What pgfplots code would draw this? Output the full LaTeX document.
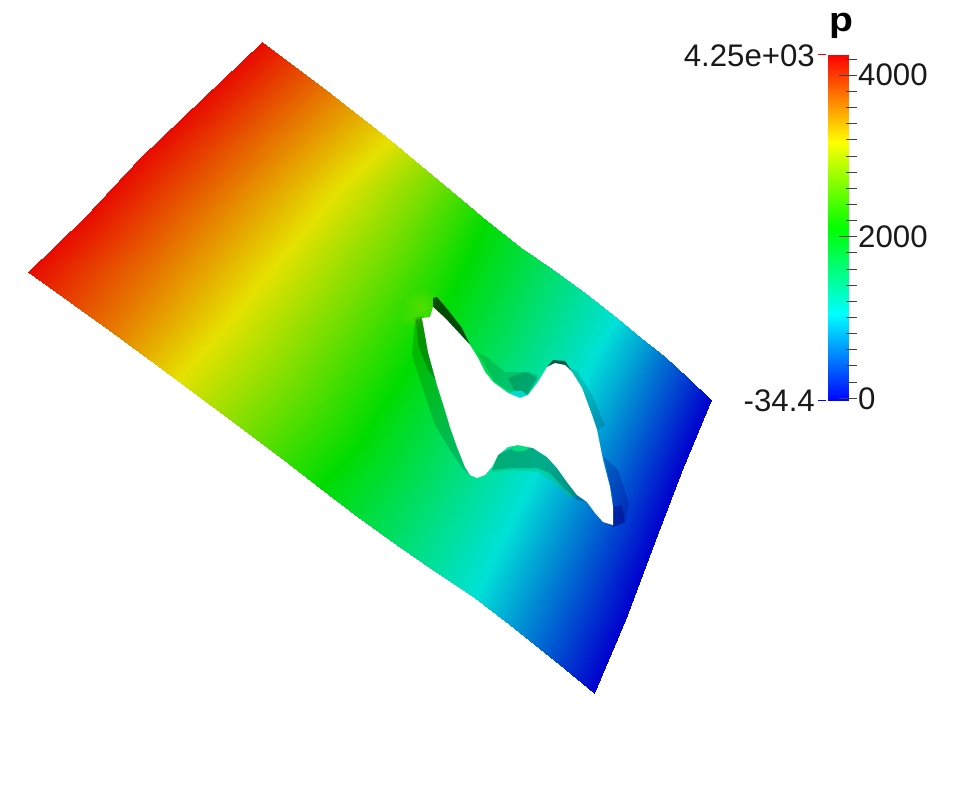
\documentclass[border=0pt]{standalone}
\usepackage{fontspec}
\setmainfont{Liberation Sans}
\usepackage{pgfplots}
\pgfplotsset{compat=1.18}
\pgfplotsset{
  colormap={surfmap}{rgb255=(0,0,205) rgb255=(0,225,215) rgb255=(0,220,0) rgb255=(230,225,0) rgb255=(232,10,0)},
  colormap={barmap}{rgb255=(0,0,255) rgb255=(0,255,255) rgb255=(0,255,0) rgb255=(255,255,0) rgb255=(255,0,0)},
  base/.style={at={(0,0)},anchor=south west,scale only axis,width=976pt,height=787pt,
    xmin=0,xmax=976,ymin=0,ymax=787,y dir=reverse,hide axis,clip=false,
    point meta min=-34.4,point meta max=4250},
  shade/.style={fill=black,fill opacity=#1,draw=none,forget plot},
}
\definecolor{humpgreen}{RGB}{0,200,125}
\definecolor{deepblue}{RGB}{0,0,130}
\begin{document}
\begin{tikzpicture}
\useasboundingbox (0,0) rectangle (976pt,787pt);
\begin{axis}[base,colormap name=surfmap]
\addplot[surf,shader=interp,mesh/cols=5,mesh/rows=14,point meta=explicit,forget plot]
 table[x=x,y=y,meta=p]{
x y p
262 42 4250
203 98 4250
140 158 4250
85 217 4250
28 272 4250
326 90 3715
270 144 3715
211 206 3715
157 268 3715
109 330 3715
390 140 3179
338 190 3179
283 255 3179
230 320 3179
177 380 3179
438 180 2644
394 243 2644
341 317 2644
293 383 2644
248 433 2644
462 200 2376
422 270 2376
370 348 2376
325 415 2376
284 460 2376
487 221 2108
450 297 2108
400 380 2108
357 447 2108
320 488 2108
520 247 1840
483 318 1840
436 399 1840
394 468 1840
358 517 1840
552 269 1572
517 340 1572
472 419 1572
432 490 1572
397 545 1572
585 293 1304
550 362 1304
508 438 1304
469 511 1304
436 572 1304
617 318 1037
590 365 1037
550 445 1037
508 530 1037
475 598 1037
641 338 769
608 405 769
572 478 769
536 554 769
505 621 769
664 356 501
633 426 501
600 499 501
566 576 501
535 645 501
688 378 233
658 446 233
628 520 233
596 598 233
565 669 233
711 400 -34
683 467 -34
655 540 -34
625 620 -34
594 693 -34
};
% brighter yellow-green area at the tip of the hole
\addplot[patch,patch type=triangle,shader=interp,point meta=explicit,forget plot]
 table[x=x,y=y,meta=p]{
x y p
425 308 2480
395 325 2306
405 295 2380
425 308 2480
405 295 2380
425 285 2280
425 308 2480
425 285 2280
445 300 2146
425 308 2480
445 300 2146
425 325 2240
425 308 2480
425 325 2240
395 325 2306
};
% shaded facets round the hole
\addplot[shade=0.65] coordinates {(433,298)(437,297)(448,310)(462,328)(470,345)(458,332)(445,318)(433,307)};
\addplot[shade=0.15] coordinates {(415,318)(423,316)(430,345)(437,385)(445,412)(452,432)(465,467)(470,475)(462,468)(450,450)(435,425)(425,395)(412,355)};
\addplot[shade=0.2] coordinates {(416,320)(423,318)(430,350)(436,380)(428,370)(418,345)};
\addplot[fill=humpgreen,fill opacity=0.5,draw=none,forget plot] coordinates {(498,455)(518,445)(533,448)(547,457)(557,468)(567,482)(577,495)(570,497)(553,482)(538,472)(513,470)(492,472)};
\addplot[shade=0.18] coordinates {(498,455)(518,445)(533,448)(547,457)(557,468)(567,482)(577,495)(587,502)(577,500)(563,487)(550,473)(537,468)(513,468)(492,470)};
\addplot[fill={rgb,255:red,0;green,222;blue,130},draw=none,forget plot] coordinates {(510,447)(518,444)(530,447)(525,451)(514,451)};
\addplot[shade=0.12] coordinates {(477,352)(495,382)(520,398)(525,397)(538,375)(528,372)(505,372)(488,358)};
\addplot[shade=0.15] coordinates {(508,378)(525,372)(538,378)(528,395)(515,392)};
\addplot[fill={rgb,255:red,0;green,220;blue,210},draw=none,forget plot] coordinates {(510,393)(520,398)(528,396)(522,391)(514,391)};
\addplot[shade=0.6] coordinates {(547,367)(553,360)(565,361)(572,372)(560,365)(552,366)};
\addplot[shade=0.13] coordinates {(570,368)(578,372)(592,395)(605,425)(598,430)(590,410)(582,390)};
\addplot[fill=deepblue,fill opacity=0.25,draw=none,forget plot] coordinates {(604,457)(618,470)(629,503)(625,523)(613,527)(613,497)};
\addplot[fill=deepblue,fill opacity=0.4,draw=none,forget plot] coordinates {(613,507)(622,505)(625,522)(613,527)};
% the hole
\addplot[fill=white,draw=none,forget plot] coordinates {
(433,307)(445,318)(458,332)(470,345)(478,358)(485,372)(493,382)(508,393)(520,398)(528,395)
(538,382)(547,367)(555,363)(565,365)(572,372)(582,388)(592,415)(597,430)(603,460)(610,487)
(613,507)(613,525)(603,522)(595,513)(587,502)(577,495)(567,482)(557,468)(547,457)(533,448)
(518,445)(508,447)(498,455)(492,467)(485,475)(477,478)(470,475)(465,467)(457,447)(450,427)
(445,410)(437,385)(428,352)(422,318)(430,317)};
\end{axis}
\begin{axis}[base,colormap name=barmap]
\addplot[surf,shader=interp,mesh/cols=2,mesh/rows=5,point meta=explicit,forget plot]
 table[x=x,y=y,meta=p]{
x y p
828 400.5 -34
848 400.5 -34
828 314.4 1037
848 314.4 1037
828 228.2 2108
848 228.2 2108
828 141.6 3179
848 141.6 3179
828 55 4250
848 55 4250
};
\addplot[draw=black!75,line width=0.8pt,empty line=jump,forget plot] table{
846 59.3
857 59.3

839 75.3
857 75.3

846 91.3
857 91.3

846 107.3
857 107.3

846 123.3
857 123.3

846 139.3
857 139.3

846 156
857 156

846 172.3
857 172.3

846 188.3
857 188.3

846 204.3
857 204.3

846 220
857 220

839 236
857 236

846 252.3
857 252.3

846 269.3
857 269.3

846 285.3
857 285.3

846 301.3
857 301.3

846 317.3
857 317.3

846 333.3
857 333.3

846 349.3
857 349.3

846 365.3
857 365.3

846 382.3
857 382.3

839 398.3
857 398.3
};
\addplot[draw=red,line width=0.8pt,forget plot] coordinates {(818,54)(826,54)};
\addplot[draw=blue,line width=0.8pt,forget plot] coordinates {(818,400)(826,400)};
\newcommand{\lab}{\fontsize{31.2}{33}\selectfont}
\node[anchor=base east,inner sep=0pt,text=black!90] at (axis cs:815,66.5) {\lab 4.25e+03};
\node[anchor=base east,inner sep=0pt,text=black!90] at (axis cs:815,411) {\lab -34.4};
\node[anchor=base west,inner sep=0pt,text=black!90] at (axis cs:858,86) {\lab 4000};
\node[anchor=base west,inner sep=0pt,text=black!90] at (axis cs:858,248) {\lab 2000};
\node[anchor=base west,inner sep=0pt,text=black!90] at (axis cs:858,409) {\lab 0};
\node[anchor=base,inner sep=0pt,xscale=1.15] at (axis cs:841,32) {\fontsize{34}{35}\selectfont\bfseries p};
\end{axis}
\end{tikzpicture}
\end{document}
